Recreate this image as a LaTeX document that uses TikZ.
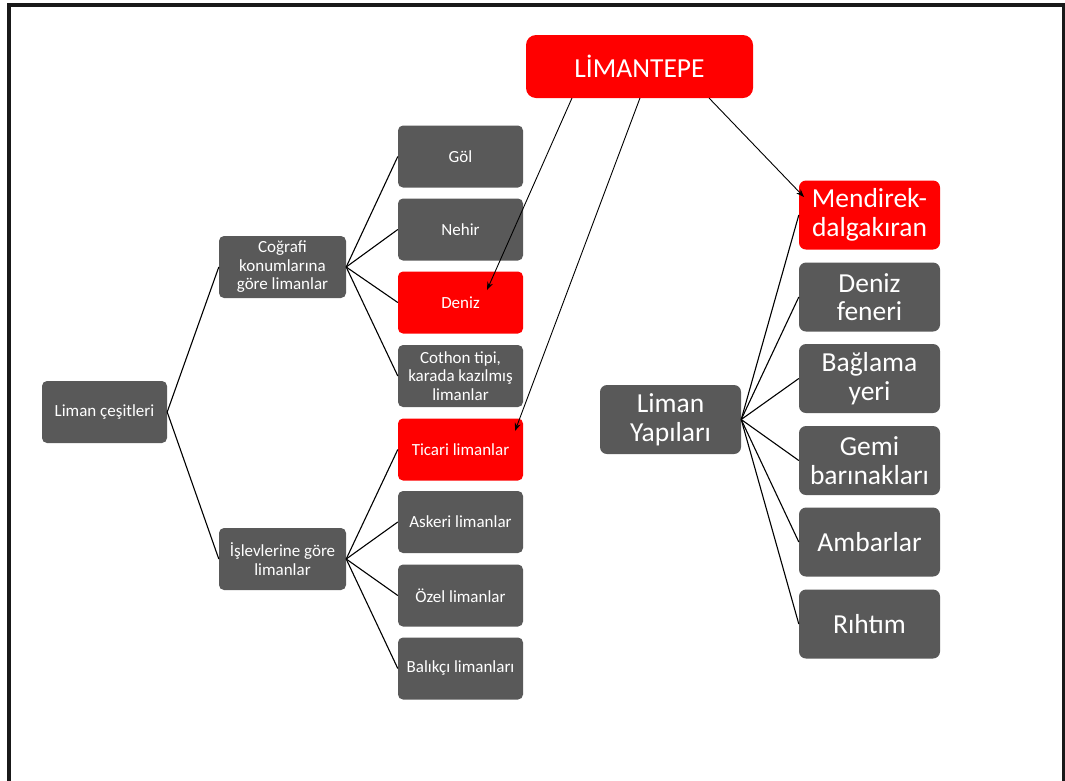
\documentclass[tikz,border=0pt]{standalone}
\usepackage{fontspec}
\setmainfont{Carlito}
\usetikzlibrary{arrows.meta}
\definecolor{boxgray}{HTML}{595959}
\definecolor{boxred}{HTML}{FF0000}
\begin{document}
\begin{tikzpicture}[x=1pt,y=-1pt,
  box/.style={draw=none,text=white,align=center,inner sep=0pt},
  smallbox/.style={box,fill=boxgray,rounded corners=5pt,minimum width=125pt,minimum height=62pt,font=\fontsize{17}{18.5}\selectfont},
  bigbox/.style={box,fill=boxgray,rounded corners=7pt,minimum width=141pt,minimum height=69pt,font=\fontsize{27.5}{28.5}\selectfont},
  redfill/.style={fill=boxred},
  link/.style={draw=black,line width=1.1pt},
  arrowlink/.style={draw=black,line width=0.9pt,-{Stealth[length=8pt,width=6pt]}},
  frameline/.style={draw=black!90,line width=3.2pt}
]
\useasboundingbox (0,0) rectangle (1065,780);
\draw[frameline] (9,790) -- (9,5) -- (1064,5) -- (1064,790);

% top node
\node[box,redfill,rounded corners=10pt,minimum width=227pt,minimum height=63pt,font=\fontsize{27.5}{28.5}\selectfont] (top) at (639.5,66.5) {LİMANTEPE};

% left tree
\node[smallbox] (cesit) at (104.5,412) {Liman çeşitleri};
\node[smallbox,minimum width=127pt] (cog) at (282.5,267) {Coğrafi\\konumlarına\\göre limanlar};
\node[smallbox,minimum width=127pt] (isl) at (282.5,559) {İşlevlerine göre\\limanlar};

\node[smallbox] (gol) at (460.5,156.5) {Göl};
\node[smallbox] (nehir) at (460.5,229.5) {Nehir};
\node[smallbox,redfill] (deniz) at (460.5,302.5) {Deniz};
\node[smallbox] (cothon) at (460.5,376) {Cothon tipi,\\karada kazılmış\\limanlar};
\node[smallbox,redfill] (ticari) at (460.5,449.5) {Ticari limanlar};
\node[smallbox] (askeri) at (460.5,522) {Askeri limanlar};
\node[smallbox] (ozel) at (460.5,595.5) {Özel limanlar};
\node[smallbox] (balikci) at (460.5,668.5) {Balıkçı limanları};

% right tree
\node[bigbox] (yapi) at (670.5,419.5) {Liman\\Yapıları};
\node[bigbox,redfill] (mend) at (869.5,215) {Mendirek-\\dalgakıran};
\node[bigbox] (fener) at (869.5,297) {Deniz\\feneri};
\node[bigbox] (bagla) at (869.5,378.5) {Bağlama\\yeri};
\node[bigbox] (gemi) at (869.5,460.5) {Gemi\\barınakları};
\node[bigbox] (ambar) at (869.5,542) {Ambarlar};
\node[bigbox] (rihtim) at (869.5,624) {Rıhtım};

% tree links
\foreach \c in {cog,isl} \draw[link] (cesit.east) -- (\c.west);
\foreach \c in {gol,nehir,deniz,cothon} \draw[link] (cog.east) -- (\c.west);
\foreach \c in {ticari,askeri,ozel,balikci} \draw[link] (isl.east) -- (\c.west);
\foreach \c in {mend,fener,bagla,gemi,ambar,rihtim} \draw[link] (yapi.east) -- (\c.west);

% arrows from top
\coordinate (s1) at (572,98);
\coordinate (s2) at (640,98);
\coordinate (s3) at (709,98);
\coordinate (t1) at (487,290);
\coordinate (t2) at (515,431);
\coordinate (t3) at (804,197);
\draw[arrowlink] (s1) -- (t1);
\draw[arrowlink] (s2) -- (t2);
\draw[arrowlink] (s3) -- (t3);
\end{tikzpicture}
\end{document}
